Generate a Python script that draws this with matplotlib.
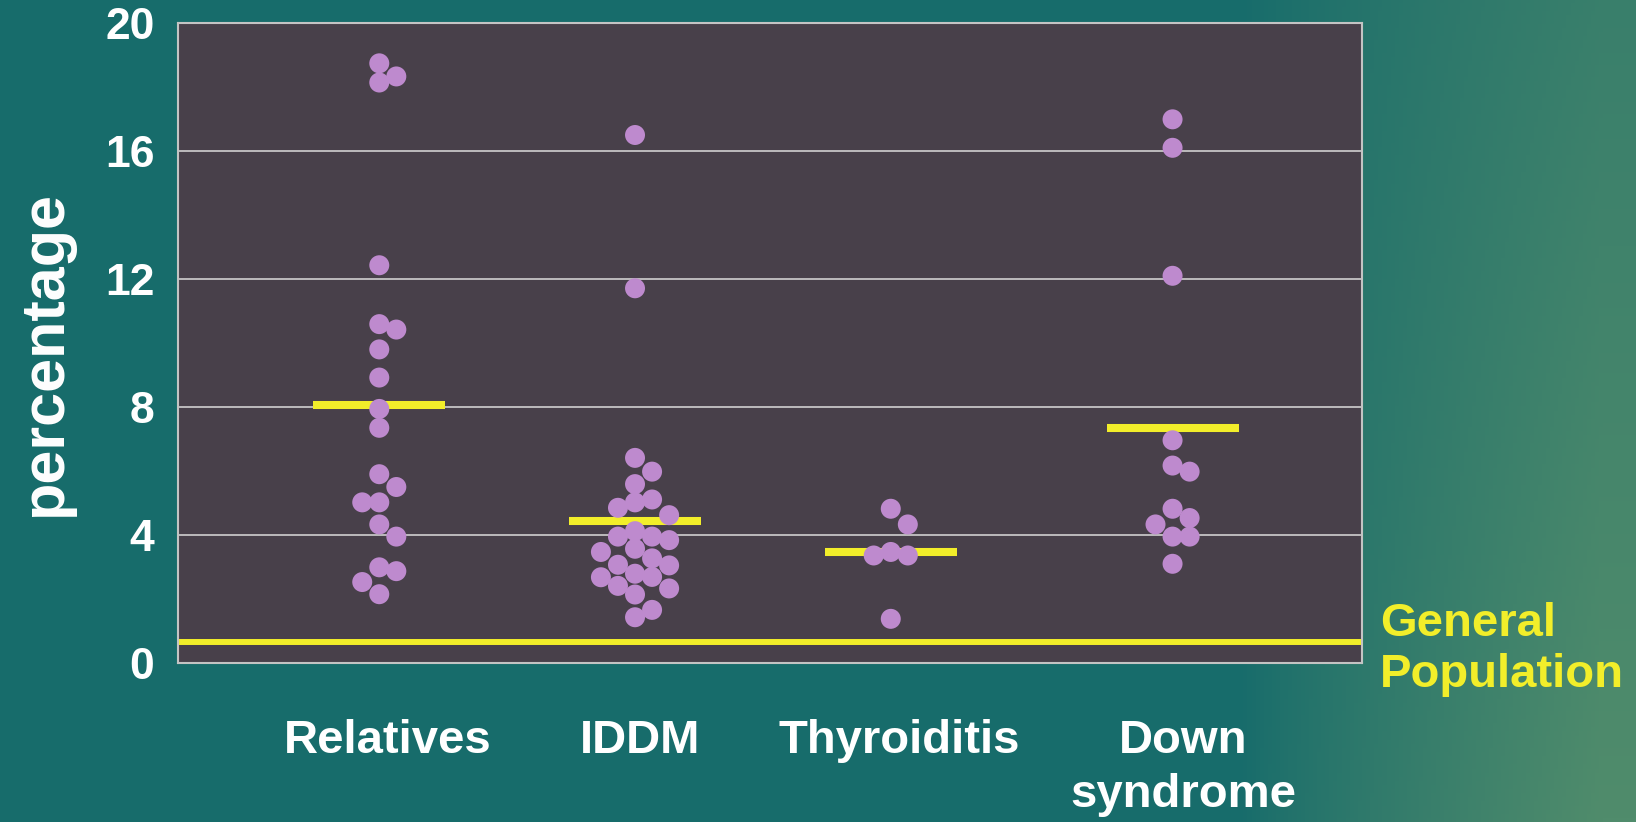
import numpy as np
import matplotlib
matplotlib.use("Agg")
import matplotlib.pyplot as plt

# values (percentage)
categories = ["Relatives", "IDDM", "Thyroiditis", "Down\nsyndrome"]

relatives = [18.74, 18.33, 18.14, 12.43, 10.59, 10.42, 9.80, 8.92, 7.94, 7.35,
             5.90, 5.50, 5.02, 5.02, 4.33, 3.95, 2.99, 2.87, 2.53, 2.15]
iddm = [16.50, 11.71, 6.41, 5.98, 5.59, 5.11, 5.02, 4.85, 4.62, 4.12, 3.95, 3.95, 3.84,
        3.57, 3.47, 3.27, 3.07, 3.05, 2.79, 2.69, 2.68, 2.41, 2.33, 2.14, 1.66, 1.43]
thyroiditis = [4.82, 4.33, 3.47, 3.36, 3.36, 1.38]
down_syndrome = [16.99, 16.10, 12.10, 6.96, 6.17, 5.98, 4.82, 4.53, 4.33, 3.95, 3.95, 3.10]
group_means = [8.05, 4.43, 3.46, 7.34]
general_population = 0.65
yticks = [0, 4, 8, 12, 16, 20]

groups = [relatives, iddm, thyroiditis, down_syndrome]

# layout (axes fraction), slide is not evenly spaced
GROUP_X = [0.170, 0.386, 0.602, 0.840]
LABEL_X = [0.177, 0.390, 0.609, 0.849]
COL_STEP = 0.0144
BAR_HALF = 0.0557
MIN_GAP = 0.55

TEAL = "#176c6b"
PANEL = "#48404a"
DOT = "#be8ace"
YELLOW = "#f2ee2a"
FONT = ["Liberation Sans", "DejaVu Sans"]


def swarm_offsets(vals):
    # simple beeswarm: put each dot in the closest free column
    order = sorted(range(len(vals)), key=lambda i: -vals[i])
    cols = {}
    offs = [0] * len(vals)
    for i in order:
        for c in [0, 1, -1, 2, -2, 3, -3]:
            if all(abs(vals[i] - v) >= MIN_GAP for v in cols.get(c, [])):
                cols.setdefault(c, []).append(vals[i])
                offs[i] = c
                break
    return offs


W, H = 1636, 822
fig = plt.figure(figsize=(W / 100, H / 100), dpi=100)
fig.patch.set_facecolor(TEAL)

# background: teal fading into green leaves on the right
bg = fig.add_axes([0, 0, 1, 1], zorder=-10)
xs = np.linspace(0, 1, 400)
ys = np.linspace(0, 1, 200)
X, Y = np.meshgrid(xs, ys)
left = np.array([23, 108, 107]) / 255
right = np.array([80, 140, 108]) / 255
t = np.clip((X - 0.76) / 0.22, 0, 1) ** 0.8 * (0.6 + 0.4 * (1 - Y))
img = left[None, None, :] * (1 - t[..., None]) + right[None, None, :] * t[..., None]
bg.imshow(img, extent=[0, 1, 0, 1], aspect="auto", origin="lower")
bg.axis("off")

ax = fig.add_axes([178 / W, 1 - 663 / H, (1362 - 178) / W, (663 - 23) / H])
ax.set_facecolor(PANEL)
ax.set_xlim(0, 1)
ax.set_ylim(0, 20)

for y in yticks[1:-1]:
    ax.axhline(y, color="#dcdcdc", lw=1.1, zorder=1)

ax.axhline(general_population, xmin=0.003, xmax=1, color=YELLOW, lw=4.3, zorder=2)

for gx, vals, m in zip(GROUP_X, groups, group_means):
    ax.hlines(m, gx - BAR_HALF, gx + BAR_HALF, color=YELLOW, lw=5.8, zorder=2)
    offs = swarm_offsets(vals)
    px = [gx + o * COL_STEP for o in offs]
    ax.scatter(px, vals, s=207, color=DOT, edgecolors="none", zorder=3)

for s in ax.spines.values():
    s.set_color("#c4c4c4")
    s.set_linewidth(1.5)

ax.set_xticks([])
ax.set_yticks(yticks)
ax.set_yticklabels([str(v) for v in yticks], fontsize=32, fontweight="bold",
                   color="white", family=FONT)
ax.tick_params(axis="y", length=0, pad=17)

for lx, lab in zip(LABEL_X, categories):
    ax.text(lx, -0.088, lab, transform=ax.transAxes, ha="center", va="top",
            fontsize=34, fontweight="bold", color="white", family=FONT,
            linespacing=1.27)

fig.text(45 / W, 1 - 353 / H, "percentage", rotation=90, ha="center", va="center",
         fontsize=44, fontweight="bold", color="white", family=FONT)

fig.text(1380 / W, 1 - 602 / H, "General\nPopulation", ha="left", va="top",
         fontsize=34, fontweight="bold", color=YELLOW, family=FONT, linespacing=1.2)

fig.savefig("out.png", dpi=100, facecolor=fig.get_facecolor())
